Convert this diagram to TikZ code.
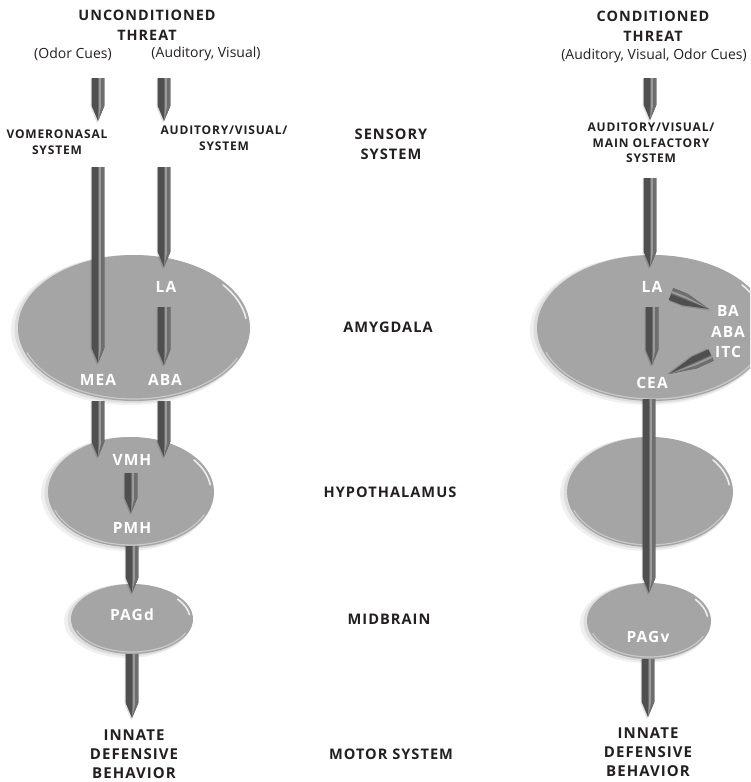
\documentclass[tikz,border=0pt]{standalone}
\usepackage{fontspec}
\setmainfont{Open Sans}
\newfontfamily\spaced{Open Sans}[LetterSpace=7]
\usetikzlibrary{shapes.geometric,calc}

\definecolor{ink}{HTML}{231F20}
\definecolor{blobfill}{HTML}{A5A5A5}
\definecolor{blobrim}{HTML}{C9C9C9}
\definecolor{pdark}{HTML}{4F4F4F}
\definecolor{pmid}{HTML}{6E6E6E}
\definecolor{plight}{HTML}{9A9A9A}

\tikzset{
  title/.style={font=\spaced\bfseries\fontsize{14.4}{20}\selectfont, text=ink, align=center, inner sep=0pt},
  cue/.style={font=\fontsize{14}{16}\selectfont, text=ink, inner sep=0pt},
  sens/.style={font=\spaced\bfseries\fontsize{12}{15.5}\selectfont, text=ink, align=center, inner sep=0pt},
  level/.style={font=\spaced\bfseries\fontsize{14.6}{20}\selectfont, text=ink, align=center, inner sep=0pt},
  inner/.style={font=\spaced\bfseries\fontsize{15.5}{20.5}\selectfont, text=white, align=center, inner sep=0pt},
  outcome/.style={font=\spaced\bfseries\fontsize{15}{19}\selectfont, text=ink, align=center, inner sep=0pt},
  region/.style={ellipse, fill=blobfill, inner sep=0pt, outer sep=0pt},
}

% soft-edged grey region with a glossy rim: name, x, y, x radius, y radius
\newcommand\blob[5]{%
  \fill[black, opacity=.06] (#2-4,#3+2) ellipse [x radius=#4pt+3pt, y radius=#5pt+2pt];
  \fill[black, opacity=.08] (#2-2,#3+1) ellipse [x radius=#4pt+1.5pt, y radius=#5pt+1pt];
  \node[region, minimum width=2*#4pt, minimum height=2*#5pt] (#1) at (#2,#3) {};
  \draw[blobrim, line width=1.2pt] ($(#1.center)+(200:#4pt-2pt and #5pt-2pt)$)
    arc [start angle=200, end angle=335, x radius=#4pt-2pt, y radius=#5pt-2pt];
  \draw[white, opacity=.8, line width=1.6pt, line cap=round] ($(#1.center)+(38:#4pt-3pt and #5pt-3pt)$)
    arc [start angle=38, end angle=8, x radius=#4pt-3pt, y radius=#5pt-3pt];
}

% pencil-shaped pointer from #2 to #3; optional #1 = tip length in pt
\newcommand\pencil[3][15]{%
  \path let \p1=(#2), \p2=(#3) in \pgfextra{%
    \pgfmathsetmacro\pang{atan2(\y2-\y1,\x2-\x1)}%
    \pgfmathsetmacro\plen{veclen(\x2-\x1,\y2-\y1)}%
    \global\let\pang\pang \global\let\plen\plen};
  \begin{scope}[shift={(#2)}, rotate=\pang]
    \fill[black, opacity=.12] (1pt,-7.5pt) -- (\plen pt-#1pt+1pt,-7.5pt) -- (\plen pt+2pt,-1pt)
      -- (\plen pt-#1pt+1pt,5.5pt) -- (1pt,5.5pt) -- cycle;
    \fill[pdark] (0pt,-6.3pt) -- (\plen pt-#1pt,-6.3pt) -- (\plen pt,0pt)
      -- (\plen pt-#1pt,6.3pt) -- (0pt,6.3pt) -- cycle;
    \fill[pmid] (0pt,0pt) -- (\plen pt-#1pt,0pt) -- (\plen pt,0pt)
      -- (\plen pt-#1pt,6.3pt) -- (0pt,6.3pt) -- cycle;
    \fill[plight] (0pt,1.2pt) rectangle (\plen pt-#1pt,3.2pt);
    \fill[plight] (\plen pt-#1pt,1.2pt) -- (\plen pt-1pt,0.2pt) -- (\plen pt-#1pt,3.2pt) -- cycle;
  \end{scope}}

\begin{document}
\begin{tikzpicture}[x=1pt, y=-1pt]
\useasboundingbox (0,0) rectangle (750,782);
\clip (0,0) rectangle (750,782);

% ---------- headings ----------
\node[title] (uthreat) at (147,25) {UNCONDITIONED\\THREAT};
\node[cue] (cueodor) at (73,54) {(Odor Cues)};
\node[cue] (cueav) at (206,54) {(Auditory, Visual)};
\node[title] (cthreat) at (653,26) {CONDITIONED\\THREAT};
\node[cue] (cueall) at (654,56) {(Auditory, Visual, Odor Cues)};

\node[sens] (vno) at (57,142) {VOMERONASAL\\SYSTEM};
\node[sens] (avs) at (224,138) {AUDITORY/VISUAL/\\SYSTEM};
\node[sens] (avos) at (651,143) {AUDITORY/VISUAL/\\MAIN OLFACTORY\\SYSTEM};

% ---------- level names ----------
\node[level] (lsens) at (391,144) {SENSORY\\SYSTEM};
\node[level] (lamy) at (388,327) {AMYGDALA};
\node[level] (lhyp) at (390,492) {HYPOTHALAMUS};
\node[level] (lmid) at (389,619) {MIDBRAIN};
\node[level] (lmot) at (391,754) {MOTOR SYSTEM};

% ---------- regions ----------
\blob{amyL}{134}{328}{116}{73}
\blob{amyR}{653}{328}{116}{73}
\blob{hypL}{131}{492}{83}{55}
\blob{hypR}{650}{492}{83}{55}
\blob{midL}{132}{619}{61}{35}
\blob{midR}{649}{621}{62}{38}

% ---------- nuclei ----------
\node[inner] (laL) at (166,287) {LA};
\node[inner] (mea) at (98,380) {MEA};
\node[inner] (abaL) at (165,380) {ABA};
\node[inner] (vmh) at (132,460) {VMH};
\node[inner] (pmh) at (132,528) {PMH};
\node[inner] (pagd) at (132,615) {PAGd};
\node[inner] (laR) at (652,287) {LA};
\node[inner] (cea) at (652,383) {CEA};
\node[inner] (baitc) at (728,332) {BA\\ABA\\ITC};
\node[inner] (pagv) at (648,637) {PAGv};

% ---------- outcomes ----------
\node[outcome] (behL) at (134,754) {INNATE\\DEFENSIVE\\BEHAVIOR};
\node[outcome] (behR) at (648,752) {INNATE\\DEFENSIVE\\BEHAVIOR};

% ---------- pointer end points ----------
\coordinate (o1) at (98,78);   \coordinate (t1) at (98,121);
\coordinate (o2) at (164,78);  \coordinate (t2) at (164,121);
\coordinate (o3) at (98,167);  \coordinate (t3) at (98,363);
\coordinate (o4) at (164,167); \coordinate (t4) at (164,267);
\coordinate (o5) at (164,307); \coordinate (t5) at (164,365);
\coordinate (o6) at (98,401);  \coordinate (t6) at (98,457);
\coordinate (o7) at (164,401); \coordinate (t7) at (164,457);
\coordinate (o8) at (131,473); \coordinate (t8) at (131,513);
\coordinate (o9) at (132,546); \coordinate (t9) at (132,593);
\coordinate (o10) at (132,654); \coordinate (t10) at (132,718);
\coordinate (r1) at (650,78);  \coordinate (s1) at (650,120);
\coordinate (r2) at (650,178); \coordinate (s2) at (650,267);
\coordinate (r3) at (652,307); \coordinate (s3) at (652,365);
\coordinate (r4) at (671,294); \coordinate (s4) at (709,309);
\coordinate (r5) at (711,355); \coordinate (s5) at (669,374);
\coordinate (r6) at (649,399); \coordinate (s6) at (649,593);
\coordinate (r7) at (648,659); \coordinate (s7) at (648,717);

% ---------- pointers ----------
\pencil{o1}{t1}
\pencil{o2}{t2}
\pencil{o3}{t3}
\pencil{o4}{t4}
\pencil{o5}{t5}
\pencil{o6}{t6}
\pencil{o7}{t7}
\pencil{o8}{t8}
\pencil{o9}{t9}
\pencil{o10}{t10}
\pencil{r1}{s1}
\pencil{r2}{s2}
\pencil{r3}{s3}
\pencil[26]{r4}{s4}
\pencil[28]{r5}{s5}
\pencil{r6}{s6}
\pencil{r7}{s7}
\end{tikzpicture}
\end{document}
